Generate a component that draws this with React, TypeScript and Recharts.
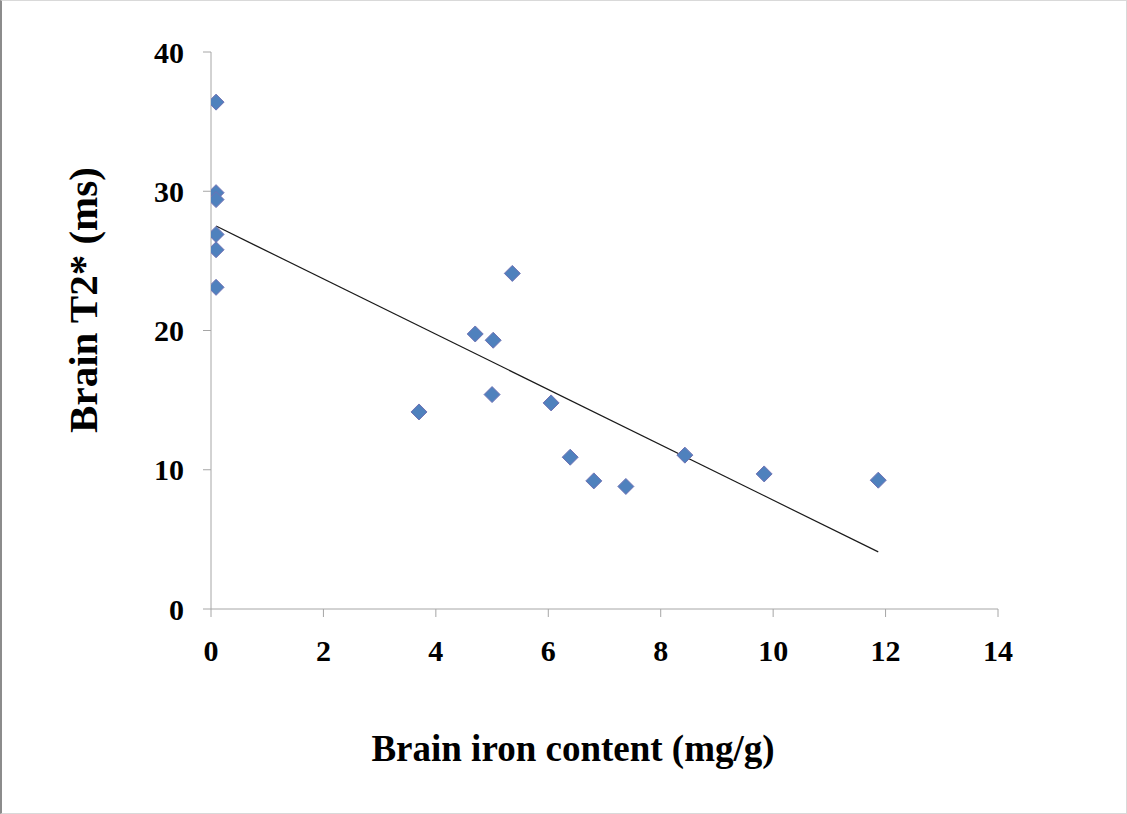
import React from 'react';
import {
  ScatterChart,
  Scatter,
  XAxis,
  YAxis,
  ReferenceLine
} from 'recharts';

// brain iron content (mg/g) vs brain T2* (ms)
const ironContent = [0.09, 0.09, 0.09, 0.09, 0.09, 0.09, 3.7, 4.7, 5.02, 5.0, 5.36, 6.05, 6.39, 6.81, 7.38, 8.43, 9.84, 11.87];
const brainT2 = [36.4, 29.9, 29.4, 26.9, 25.8, 23.1, 14.15, 19.75, 19.3, 15.4, 24.1, 14.8, 10.9, 9.2, 8.8, 11.05, 9.7, 9.25];

// linear fit end points
const trendX = [0.09, 11.87];
const trendY = [27.5, 4.1];

const xTicks = [0, 2, 4, 6, 8, 10, 12, 14];
const yTicks = [0, 10, 20, 30, 40];

const points = ironContent.map((x, i) => ({ x, y: brainT2[i] }));
const trendSegment = trendX.map((x, i) => ({ x, y: trendY[i] }));

const axisColor = '#a6a6a6';
const fontFamily = '"Liberation Serif", "Times New Roman", serif';

const Diamond = (props: any) => {
  const { cx, cy } = props;
  if (cx == null || cy == null) return null;
  const r = 8;
  return (
    <polygon
      points={`${cx},${cy - r} ${cx + r},${cy} ${cx},${cy + r} ${cx - r},${cy}`}
      fill="#4f81bd"
      stroke="#7072b4"
      strokeWidth={1}
    />
  );
};

const tickStyle = { fill: '#000', fontSize: 30, fontWeight: 'bold', fontFamily };

export default function App() {
  return (
    <div style={{ position: 'absolute', left: 0, top: 0, width: 1127, height: 814, background: '#fff' }}>
      <ScatterChart
        width={1127}
        height={814}
        margin={{ top: 52, right: 129, bottom: 145, left: 0 }}
      >
        <XAxis
          type="number"
          dataKey="x"
          domain={[0, 14]}
          ticks={xTicks}
          height={60}
          stroke={axisColor}
          tickSize={8}
          tickMargin={23}
          tick={tickStyle}
          allowDataOverflow
        />
        <YAxis
          type="number"
          dataKey="y"
          domain={[0, 40]}
          ticks={yTicks}
          width={211}
          stroke={axisColor}
          tickSize={8}
          tickMargin={19}
          tick={tickStyle}
          allowDataOverflow
        />
        <ReferenceLine segment={trendSegment} stroke="#1a1a1a" strokeWidth={1.2} ifOverflow="visible" />
        <Scatter data={points} shape={<Diamond />} isAnimationActive={false} />
      </ScatterChart>
      <div
        style={{
          position: 'absolute',
          left: 83,
          top: 300,
          transform: 'translate(-50%, -50%) rotate(-90deg)',
          whiteSpace: 'nowrap',
          fontFamily,
          fontWeight: 'bold',
          fontSize: 41,
          color: '#000'
        }}
      >
        Brain T2* (ms)
      </div>
      <div
        style={{
          position: 'absolute',
          left: 573,
          top: 748,
          transform: 'translate(-50%, -50%)',
          whiteSpace: 'nowrap',
          fontFamily,
          fontWeight: 'bold',
          fontSize: 37,
          color: '#000'
        }}
      >
        Brain iron content (mg/g)
      </div>
      <div
        style={{
          position: 'absolute',
          left: 0,
          top: 0,
          width: 1127,
          height: 814,
          boxSizing: 'border-box',
          borderTop: '1px solid #d9d9d9',
          borderRight: '1px solid #d9d9d9',
          borderBottom: '1px solid #d9d9d9',
          borderLeft: '2px solid #8c8c8c',
          pointerEvents: 'none'
        }}
      />
    </div>
  );
}
